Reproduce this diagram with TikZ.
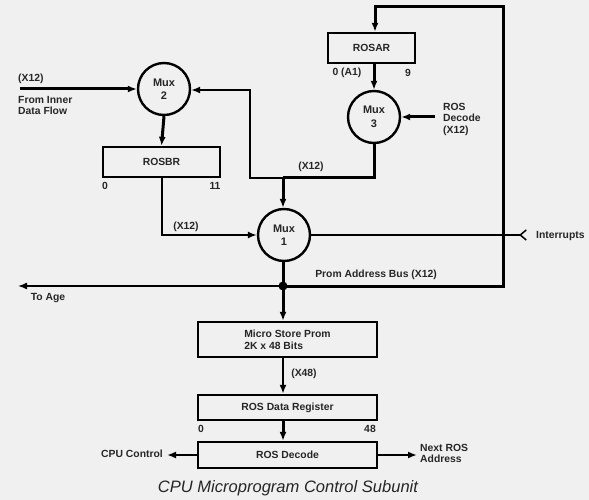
\documentclass[tikz,border=0pt]{standalone}
\usepackage{fontspec}
\setmainfont{Liberation Sans}
\usetikzlibrary{arrows.meta,calc}
\begin{document}
\begin{tikzpicture}[x=1bp,y=-1bp,
  lbl/.style={font=\fontsize{10.4}{11.5}\selectfont\bfseries, inner sep=0pt, text=black!85},
  box/.style={draw, line width=2.4bp, rectangle, inner sep=0pt, font=\fontsize{10.4}{12}\selectfont\bfseries, text=black!85, align=center},
  mux/.style={draw, line width=2.4bp, circle, minimum size=52bp, inner sep=0pt, font=\fontsize{11}{13.5}\selectfont\bfseries, text=black!85, align=center},
  thk/.style={line width=3bp},
  thn/.style={line width=1.5bp},
  arr/.style={-{Latex[length=9bp,width=7bp]}},
]
\useasboundingbox (0,0) rectangle (589,500);
\fill[black!6] (0,0) rectangle (589,500);

% nodes
\node[mux] (mux2) at (164,89) {Mux\\2};
\node[mux] (mux3) at (374,117) {Mux\\3};
\node[mux] (mux1) at (284,235) {Mux\\1};
\node[box, minimum width=117bp, minimum height=30bp] (rosbr) at (161.5,162) {ROSBR};
\node[box, minimum width=87bp, minimum height=30bp] (rosar) at (371.5,48) {ROSAR};
\node[box, minimum width=179bp, minimum height=35bp, align=left] (msp) at (287.5,339.5) {Micro Store Prom\\2K x 48 Bits};
\node[box, minimum width=179bp, minimum height=25bp] (rdr) at (287.5,407.5) {ROS Data Register};
\node[box, minimum width=179bp, minimum height=26bp] (rdec) at (287.5,455) {ROS Decode};

% coordinates
\coordinate (inL) at (20,89);
\coordinate (rdIn) at (435,117);
\coordinate (intR) at (527,235);
\coordinate (junc) at (283,286);
\coordinate (age) at (18,286);
\coordinate (busR) at (503,286);
\coordinate (busT) at (503,7);
\coordinate (rosarT) at (375,7);
\coordinate (m3b) at (374,178);
\coordinate (m1t) at (283,178);
\coordinate (fbL) at (250,178);
\coordinate (fbT) at (250,90);
\coordinate (bbL) at (162,235);
\coordinate (cpuC) at (167,455);
\coordinate (nxt) at (417,455);

% connectors
\draw[thk,arr] (inL) -- (mux2.west);
\draw[thk,arr] (mux2.south) -- (rosbr.north);
\draw[thn,arr] (rosbr.south -| bbL) -- (bbL) -- (mux1.west);
\draw[thk] (mux3.south) -- (m3b) -- (m1t);
\draw[thk,arr] (m1t) -- (mux1.north -| m1t);
\draw[thn,arr] (m1t) -- (fbL) -- (fbT) -- (mux2.east |- fbT);
\draw[thk,arr] (junc) -- (busR) -- (busT) -- (rosarT) -- (rosar.north -| rosarT);
\draw[thk,arr] (rosar.south -| mux3) -- (mux3.north);
\draw[thk,arr] (rdIn) -- (mux3.east);
\draw[thn,arr,{Straight Barb[reversed,length=6bp,width=10bp]}-] (intR) -- (mux1.east);
\draw[thk] (mux1.south -| junc) -- (junc);
\draw[thk,arr] (junc) -- (msp.north -| junc);
\draw[thn,arr] (junc) -- (age);
\fill (junc) circle (4.5bp);
\draw[line width=2bp,arr] (msp.south -| junc) -- (rdr.north -| junc);
\draw[thk,arr] (rdr.south -| junc) -- (rdec.north -| junc);
\draw[line width=2bp,arr] (rdec.west) -- (cpuC);
\draw[line width=2bp,arr] (rdec.east) -- (nxt);

% labels
\node[lbl, anchor=west] (l1) at (18,79) {(X12)};
\node[lbl, anchor=north west, align=left] (l2) at (18,96) {From Inner\\Data Flow};
\node[lbl] (l3) at (105,186) {0};
\node[lbl] (l4) at (215,186) {11};
\node[lbl] (l5) at (186,227) {(X12)};
\node[lbl] (l6) at (347,73) {0 (A1)};
\node[lbl] (l7) at (408,73) {9};
\node[lbl, anchor=north west, align=left] (l8) at (443,103) {ROS\\Decode\\(X12)};
\node[lbl] (l9) at (311,167) {(X12)};
\node[lbl, anchor=west] (l10) at (536,236) {Interrupts};
\node[lbl] (l11) at (376,275) {Prom Address Bus (X12)};
\node[lbl] (l12) at (48,298) {To Age};
\node[lbl] (l13) at (304,374) {(X48)};
\node[lbl] (l14) at (201,429) {0};
\node[lbl] (l15) at (370,429) {48};
\node[lbl, anchor=east] (l16) at (163,454) {CPU Control};
\node[lbl, anchor=north west, align=left] (l17) at (420,444) {Next ROS\\Address};
\node[font=\fontsize{16.6}{19}\selectfont\itshape, text=black!85, inner sep=0pt] (cap) at (288,488) {CPU Microprogram Control Subunit};
\end{tikzpicture}
\end{document}
